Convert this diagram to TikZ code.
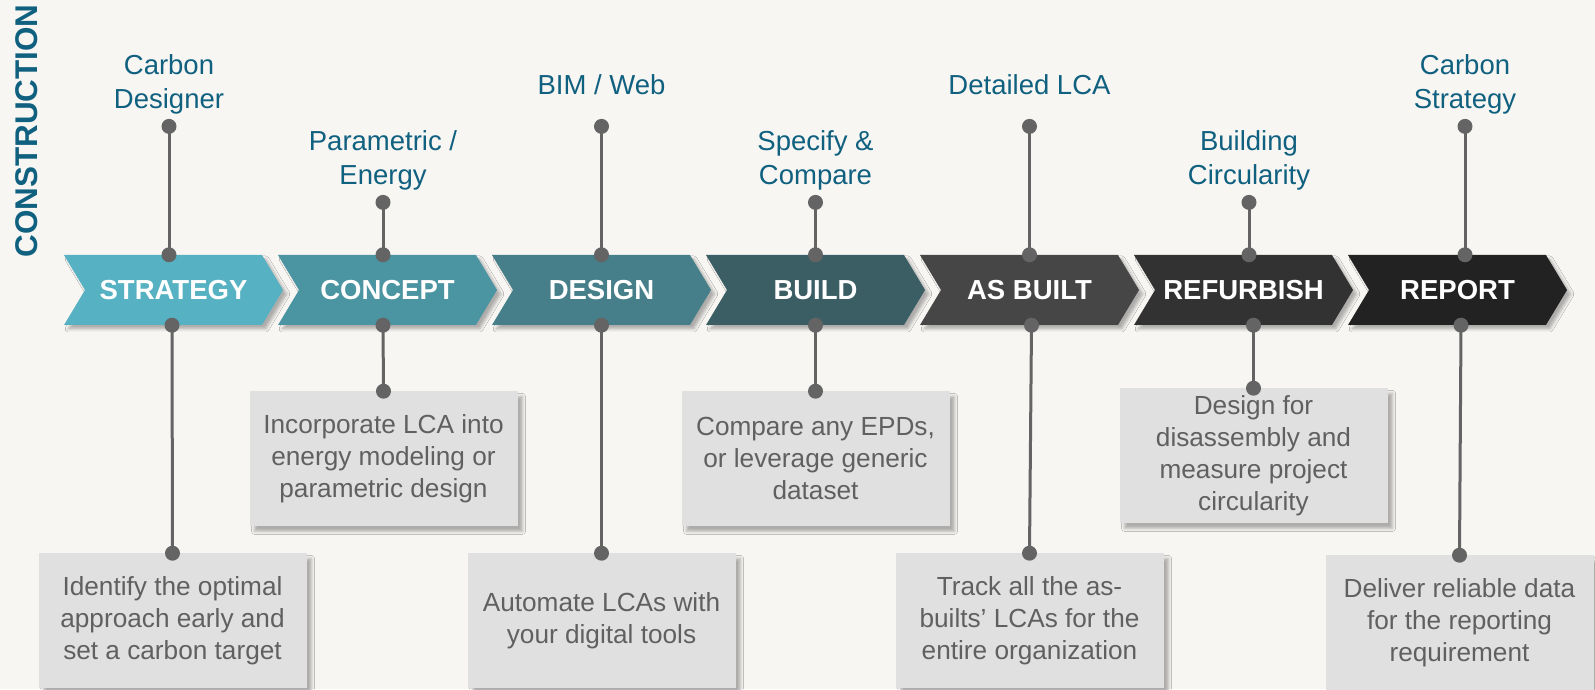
\documentclass[tikz,border=0pt]{standalone}
\usepackage{fontspec}
\setmainfont{Liberation Sans}
\usepackage{xcolor}
\usetikzlibrary{shapes.symbols, positioning, backgrounds, shadows.blur}

\definecolor{bgcol}{RGB}{248,246,243}
\definecolor{tealtext}{RGB}{16,96,128}
\definecolor{dotgray}{RGB}{100,100,100}
\definecolor{boxfill}{RGB}{224,224,224}
\definecolor{boxtext}{RGB}{96,96,96}
\definecolor{cStrategy}{RGB}{86,178,194}
\definecolor{cConcept}{RGB}{75,148,161}
\definecolor{cDesign}{RGB}{70,127,137}
\definecolor{cBuild}{RGB}{59,94,101}
\definecolor{cAsBuilt}{RGB}{70,70,70}
\definecolor{cRefurbish}{RGB}{50,50,50}
\definecolor{cReport}{RGB}{34,34,34}

\begin{document}
\begin{tikzpicture}[
    x=1pt, y=1pt,
    node distance=20pt,
    phase/.style={signal, signal to=east, signal from=west, signal pointer angle=118, minimum width=219pt, minimum height=70pt, inner sep=0pt, text=white, font=\fontsize{27.5}{30}\selectfont\bfseries, blur shadow={shadow xshift=4pt, shadow yshift=-4pt, shadow blur radius=3pt, shadow opacity=30}},
    dot/.style={circle, fill=dotgray, inner sep=0pt, minimum size=15pt},
    tool/.style={text=tealtext, align=center, font=\fontsize{27.5}{34}\selectfont},
    desc/.style={rectangle, fill=boxfill, text=boxtext, align=center, minimum width=268pt, minimum height=135pt, font=\fontsize{26.2}{32}\selectfont, blur shadow={shadow xshift=5pt, shadow yshift=-5pt, shadow blur radius=3pt, shadow opacity=30}},
    stem/.style={draw=dotgray, line width=3pt}
]

\useasboundingbox (0,0) rectangle (1595,689);

% Title
\node[rotate=90, text=tealtext, font=\fontsize{31.4}{34}\selectfont\bfseries] (title) at (26.5,558) {CONSTRUCTION};

% Phases
\node[phase, fill=cStrategy] (strategy) at (173.5,399) {STRATEGY};
\node[phase, fill=cConcept] (concept) at (387.5,399) {CONCEPT};
\node[phase, fill=cDesign] (design) at (601.5,399) {DESIGN};
\node[phase, fill=cBuild] (build) at (815.5,399) {BUILD};
\node[phase, fill=cAsBuilt] (asbuilt) at (1029.5,399) {AS BUILT};
\node[phase, fill=cRefurbish] (refurbish) at (1243.5,399) {REFURBISH};
\node[phase, fill=cReport] (report) at (1457.5,399) {REPORT};

% Descriptions
\node[desc, below=228pt of strategy, xshift=-1pt] (dStrategy) {Identify the optimal\\approach early and\\set a carbon target};
\node[desc, below=66pt of concept, xshift=-4pt] (dConcept) {Incorporate LCA into\\energy modeling or\\parametric design};
\node[desc, below=228pt of design] (dDesign) {Automate LCAs with\\your digital tools};
\node[desc, below=66pt of build] (dBuild) {Compare any EPDs,\\or leverage generic\\dataset};
\node[desc, below=228pt of asbuilt] (dAsBuilt) {Track all the as-\\builts’ LCAs for the\\entire organization};
\node[desc, below=63pt of refurbish, xshift=10pt] (dRefurbish) {Design for\\disassembly and\\measure project\\circularity};
\node[desc, below=230pt of report, xshift=2pt] (dReport) {Deliver reliable data\\for the reporting\\requirement};

% Dots on the phases
\node[dot, xshift=-4.5pt] (sTop) at (strategy.north) {};
\node[dot, xshift=-1.5pt] (sBot) at (strategy.south) {};
\node[dot, xshift=-4.5pt] (cTop) at (concept.north) {};
\node[dot, xshift=-4.5pt] (cBot) at (concept.south) {};
\node[dot] (dsTop) at (design.north) {};
\node[dot] (dsBot) at (design.south) {};
\node[dot] (bTop) at (build.north) {};
\node[dot] (bBot) at (build.south) {};
\node[dot] (aTop) at (asbuilt.north) {};
\node[dot, xshift=2pt] (aBot) at (asbuilt.south) {};
\node[dot, xshift=5.5pt] (rfTop) at (refurbish.north) {};
\node[dot, xshift=10pt] (rfBot) at (refurbish.south) {};
\node[dot, xshift=7.5pt] (rpTop) at (report.north) {};
\node[dot, xshift=3.5pt] (rpBot) at (report.south) {};

% Tool dots
\node[dot, above=113pt of sTop] (sTool) {};
\node[dot, above=37pt of cTop] (cTool) {};
\node[dot, above=113pt of dsTop] (dsTool) {};
\node[dot, above=37pt of bTop] (bTool) {};
\node[dot, above=113pt of aTop] (aTool) {};
\node[dot, above=37pt of rfTop] (rfTool) {};
\node[dot, above=113pt of rpTop] (rpTool) {};

% Description dots
\node[dot] (sDesc) at (dStrategy.north) {};
\node[dot] (cDesc) at (dConcept.north) {};
\node[dot] (dsDesc) at (dDesign.north) {};
\node[dot] (bDesc) at (dBuild.north) {};
\node[dot] (aDesc) at (dAsBuilt.north) {};
\node[dot] (rfDesc) at (dRefurbish.north) {};
\node[dot] (rpDesc) at (dReport.north) {};

% Tools
\node[tool] (tStrategy) at ([yshift=42pt]sTool.center) {Carbon\\Designer};
\node[tool] (tConcept) at ([yshift=42pt]cTool.center) {Parametric /\\Energy};
\node[tool] (tDesign) at ([yshift=42pt]dsTool.center) {BIM / Web};
\node[tool] (tBuild) at ([yshift=42pt]bTool.center) {Specify \&\\Compare};
\node[tool] (tAsBuilt) at ([yshift=42pt]aTool.center) {Detailed LCA};
\node[tool] (tRefurbish) at ([yshift=42pt]rfTool.center) {Building\\Circularity};
\node[tool] (tReport) at ([yshift=42pt]rpTool.center) {Carbon\\Strategy};

% Stems
\begin{scope}[on background layer]
\fill[bgcol] (0,0) rectangle (1595,689);
\draw[stem] (sTool.center) -- (sTop.center);
\draw[stem] (cTool.center) -- (cTop.center);
\draw[stem] (dsTool.center) -- (dsTop.center);
\draw[stem] (bTool.center) -- (bTop.center);
\draw[stem] (aTool.center) -- (aTop.center);
\draw[stem] (rfTool.center) -- (rfTop.center);
\draw[stem] (rpTool.center) -- (rpTop.center);
\draw[stem] (sBot.center) -- (sDesc.center);
\draw[stem] (cBot.center) -- (cDesc.center);
\draw[stem] (dsBot.center) -- (dsDesc.center);
\draw[stem] (bBot.center) -- (bDesc.center);
\draw[stem] (aBot.center) -- (aDesc.center);
\draw[stem] (rfBot.center) -- (rfDesc.center);
\draw[stem] (rpBot.center) -- (rpDesc.center);
\end{scope}

\end{tikzpicture}
\end{document}
